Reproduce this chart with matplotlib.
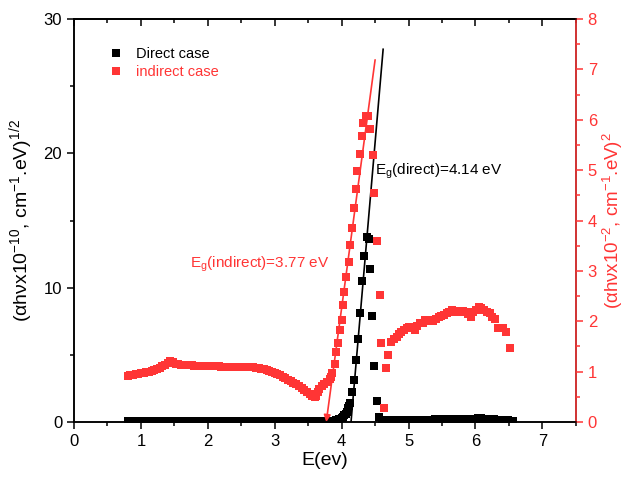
import matplotlib
matplotlib.use("Agg")
import matplotlib.pyplot as plt
from matplotlib.ticker import MultipleLocator

plt.rcParams['font.family'] = ['Liberation Sans', 'DejaVu Sans']
plt.rcParams['mathtext.fontset'] = 'custom'
plt.rcParams['mathtext.rm'] = 'Liberation Sans'
plt.rcParams['mathtext.it'] = 'Liberation Sans:italic'
plt.rcParams['mathtext.default'] = 'regular'

RED = '#FF3535'

# ---- direct case: (alpha h nu)^1/2, left axis ----
direct_e = [0.80, 0.84, 0.88, 0.92, 0.96, 1.00, 1.04, 1.08, 1.12, 1.16, 1.20, 1.24,
            1.28, 1.32, 1.36, 1.40, 1.44, 1.48, 1.52, 1.56, 1.60, 1.64, 1.68, 1.72,
            1.76, 1.80, 1.84, 1.88, 1.92, 1.96, 2.00, 2.04, 2.08, 2.12, 2.16, 2.20,
            2.24, 2.28, 2.32, 2.36, 2.40, 2.44, 2.48, 2.52, 2.56, 2.60, 2.64, 2.68,
            2.72, 2.76, 2.80, 2.84, 2.88, 2.92, 2.96, 3.00, 3.04, 3.08, 3.12, 3.16,
            3.20, 3.24, 3.28, 3.32, 3.36, 3.40, 3.44, 3.48, 3.52, 3.56, 3.60, 3.64,
            3.68, 3.72, 3.76, 3.80, 3.84, 3.88, 3.92, 3.96, 4.00, 4.02, 4.04, 4.06,
            4.08, 4.09, 4.10, 4.11, 4.13, 4.15, 4.18, 4.22, 4.25, 4.28, 4.30, 4.33,
            4.38, 4.41, 4.43, 4.46, 4.48, 4.53, 4.56, 4.60, 4.64, 4.68, 4.72, 4.76,
            4.80, 4.84, 4.88, 4.92, 4.96, 5.00, 5.04, 5.08, 5.12, 5.16, 5.20, 5.24,
            5.28, 5.32, 5.36, 5.40, 5.44, 5.48, 5.52, 5.56, 5.60, 5.64, 5.68, 5.72,
            5.76, 5.80, 5.84, 5.88, 5.92, 5.96, 6.00, 6.04, 6.08, 6.12, 6.16, 6.20,
            6.24, 6.28, 6.32, 6.36, 6.40, 6.44, 6.48, 6.52, 6.56]
direct_v = [0.05, 0.05, 0.05, 0.05, 0.05, 0.05, 0.05, 0.05, 0.05, 0.05, 0.05, 0.05,
            0.05, 0.05, 0.05, 0.06, 0.06, 0.06, 0.06, 0.06, 0.06, 0.06, 0.06, 0.06,
            0.06, 0.06, 0.06, 0.06, 0.06, 0.06, 0.06, 0.06, 0.06, 0.06, 0.06, 0.06,
            0.06, 0.06, 0.06, 0.06, 0.06, 0.06, 0.06, 0.06, 0.06, 0.06, 0.06, 0.06,
            0.06, 0.06, 0.06, 0.06, 0.06, 0.06, 0.06, 0.05, 0.05, 0.05, 0.05, 0.05,
            0.05, 0.05, 0.05, 0.05, 0.05, 0.05, 0.05, 0.05, 0.05, 0.05, 0.05, 0.05,
            0.05, 0.05, 0.05, 0.06, 0.08, 0.10, 0.14, 0.20, 0.30, 0.40, 0.50, 0.62,
            0.75, 0.90, 1.05, 1.20, 1.44, 2.20, 3.10, 4.60, 6.20, 8.10, 10.50, 12.36,
            13.75, 13.60, 11.40, 7.90, 4.17, 1.59, 0.40, 0.15, 0.12, 0.12, 0.12, 0.12,
            0.13, 0.13, 0.13, 0.14, 0.14, 0.14, 0.15, 0.15, 0.15, 0.16, 0.16, 0.17,
            0.17, 0.18, 0.18, 0.19, 0.19, 0.20, 0.20, 0.21, 0.21, 0.22, 0.22, 0.22,
            0.23, 0.23, 0.23, 0.23, 0.24, 0.24, 0.25, 0.26, 0.26, 0.25, 0.24, 0.23,
            0.21, 0.20, 0.18, 0.17, 0.15, 0.14, 0.12, 0.11, 0.10]

# ---- indirect case: (alpha h nu)^2, right axis ----
indirect_e = [0.80, 0.84, 0.88, 0.92, 0.96, 1.00, 1.04, 1.08, 1.12, 1.16, 1.20, 1.24,
              1.28, 1.32, 1.36, 1.40, 1.44, 1.48, 1.52, 1.56, 1.60, 1.64, 1.68, 1.72,
              1.76, 1.80, 1.84, 1.88, 1.92, 1.96, 2.00, 2.04, 2.08, 2.12, 2.16, 2.20,
              2.24, 2.28, 2.32, 2.36, 2.40, 2.44, 2.48, 2.52, 2.56, 2.60, 2.64, 2.68,
              2.72, 2.76, 2.80, 2.84, 2.88, 2.92, 2.96, 3.00, 3.04, 3.08, 3.12, 3.16,
              3.20, 3.24, 3.28, 3.32, 3.36, 3.40, 3.44, 3.48, 3.52, 3.56, 3.60, 3.62,
              3.64, 3.66, 3.70, 3.74, 3.78, 3.82, 3.84, 3.86, 3.90, 3.92, 3.94, 3.97,
              4.00, 4.02, 4.04, 4.07, 4.11, 4.13, 4.16, 4.18, 4.21, 4.23, 4.27, 4.30,
              4.32, 4.36, 4.39, 4.43, 4.47, 4.49, 4.53, 4.57, 4.59, 4.63, 4.67, 4.69,
              4.74, 4.78, 4.82, 4.86, 4.89, 4.93, 4.97, 5.01, 5.05, 5.09, 5.13, 5.17,
              5.21, 5.25, 5.29, 5.33, 5.37, 5.41, 5.45, 5.49, 5.53, 5.57, 5.61, 5.65,
              5.69, 5.73, 5.77, 5.81, 5.85, 5.89, 5.93, 5.97, 6.01, 6.05, 6.09, 6.13,
              6.17, 6.21, 6.25, 6.29, 6.33, 6.37, 6.41, 6.45, 6.52]
indirect_v = [0.92, 0.93, 0.94, 0.95, 0.96, 0.97, 0.98, 0.99, 1.00, 1.02, 1.04, 1.06,
              1.08, 1.11, 1.14, 1.17, 1.21, 1.19, 1.16, 1.15, 1.14, 1.14, 1.13, 1.13,
              1.13, 1.12, 1.12, 1.12, 1.12, 1.11, 1.11, 1.11, 1.11, 1.11, 1.11, 1.10,
              1.10, 1.10, 1.10, 1.10, 1.10, 1.10, 1.10, 1.10, 1.10, 1.10, 1.09, 1.09,
              1.08, 1.07, 1.06, 1.05, 1.04, 1.02, 1.00, 0.98, 0.95, 0.93, 0.90, 0.87,
              0.84, 0.81, 0.78, 0.75, 0.71, 0.68, 0.64, 0.60, 0.56, 0.52, 0.49, 0.52,
              0.60, 0.66, 0.71, 0.75, 0.80, 0.86, 0.90, 0.98, 1.16, 1.39, 1.57, 1.83,
              2.02, 2.32, 2.59, 2.88, 3.18, 3.51, 3.86, 4.24, 4.62, 4.99, 5.33, 5.67,
              5.93, 6.07, 6.07, 5.81, 5.30, 4.54, 3.60, 2.52, 1.57, 0.27, 1.07, 1.33,
              1.59, 1.64, 1.69, 1.74, 1.79, 1.83, 1.86, 1.89, 1.87, 1.83, 1.90, 1.96,
              1.97, 2.02, 2.02, 2.01, 2.01, 2.05, 2.09, 2.10, 2.13, 2.16, 2.19, 2.22,
              2.21, 2.19, 2.19, 2.20, 2.19, 2.14, 2.09, 2.18, 2.22, 2.29, 2.26, 2.22,
              2.19, 2.16, 2.08, 2.04, 1.86, 1.86, 1.86, 1.79, 1.46]

# linear fits (end points of the fitted lines)
direct_fit_e = [4.14, 4.62]
direct_fit_v = [0.0, 27.75]
indirect_fit_e = [4.50, 3.77]
indirect_fit_v = [7.19, 0.0]

fig = plt.figure(figsize=(6.3, 4.82), dpi=100)
ax = fig.add_axes([0.1175, 0.1245, 0.7965, 0.836])
ax2 = ax.twinx()

h1, = ax.plot(direct_e, direct_v, 's', color='black', markersize=6,
              markeredgewidth=0, label='Direct case')
ax.plot(direct_fit_e, direct_fit_v, '-', color='black', linewidth=1.2)

h2, = ax2.plot(indirect_e, indirect_v, 's', color=RED, markersize=6,
               markeredgewidth=0, label='indirect case')
ax2.annotate('', xy=(indirect_fit_e[1], indirect_fit_v[1]),
             xytext=(indirect_fit_e[0], indirect_fit_v[0]),
             arrowprops=dict(arrowstyle='-|>', color=RED, lw=1.2,
                             mutation_scale=10, shrinkA=0, shrinkB=0))

ax.set_xlim(0, 7.5)
ax.set_ylim(0, 30)
ax2.set_ylim(0, 8)

ax.xaxis.set_major_locator(MultipleLocator(1))
ax.xaxis.set_minor_locator(MultipleLocator(0.5))
ax.yaxis.set_major_locator(MultipleLocator(10))
ax.yaxis.set_minor_locator(MultipleLocator(5))
ax2.yaxis.set_major_locator(MultipleLocator(1))
ax2.yaxis.set_minor_locator(MultipleLocator(0.5))

ax.tick_params(which='both', direction='out', labelsize=12, width=1.1)
ax.tick_params(which='major', length=5)
ax.tick_params(which='minor', length=3)
ax.tick_params(top=False, which='both')

# top axis with ticks pointing into the plot
top = ax.secondary_xaxis('top')
top.xaxis.set_major_locator(MultipleLocator(1))
top.xaxis.set_minor_locator(MultipleLocator(0.5))
top.tick_params(which='both', direction='in', labeltop=False, width=1.1)
top.tick_params(which='major', length=5)
top.tick_params(which='minor', length=3)
top.spines['top'].set_linewidth(1.1)

ax2.tick_params(which='both', direction='out', colors=RED, labelsize=12, width=1.1)
ax2.tick_params(which='major', length=5)
ax2.tick_params(which='minor', length=3)
for s in ax.spines.values():
    s.set_linewidth(1.1)
for s in ax2.spines.values():
    s.set_linewidth(1.1)
ax2.spines['right'].set_color(RED)

ax.set_xlabel('E(ev)', fontsize=14, labelpad=2)
ax.set_ylabel('(αhνx10$^{-10}$, cm$^{-1}$.eV)$^{1/2}$', fontsize=14, labelpad=6)
ax2.set_ylabel('(αhνx10$^{-2}$, cm$^{-1}$.eV)$^{2}$', fontsize=13.5, color=RED,
               rotation=90, labelpad=3)

ax.text(4.50, 18.4, 'E$_{g}$(direct)=4.14 eV', fontsize=11, color='black',
        va='baseline', ha='left')
ax.text(1.73, 11.5, 'E$_{g}$(indirect)=3.77 eV', fontsize=11, color=RED,
        va='baseline', ha='left')

ax2.legend(handles=[h1, h2], loc='upper left', bbox_to_anchor=(0.048, 0.955),
           frameon=False, fontsize=10.5, labelcolor=['black', RED],
           handletextpad=0.9, handlelength=1.0, borderpad=0.2, labelspacing=0.25)

fig.savefig('out.png', dpi=100)
